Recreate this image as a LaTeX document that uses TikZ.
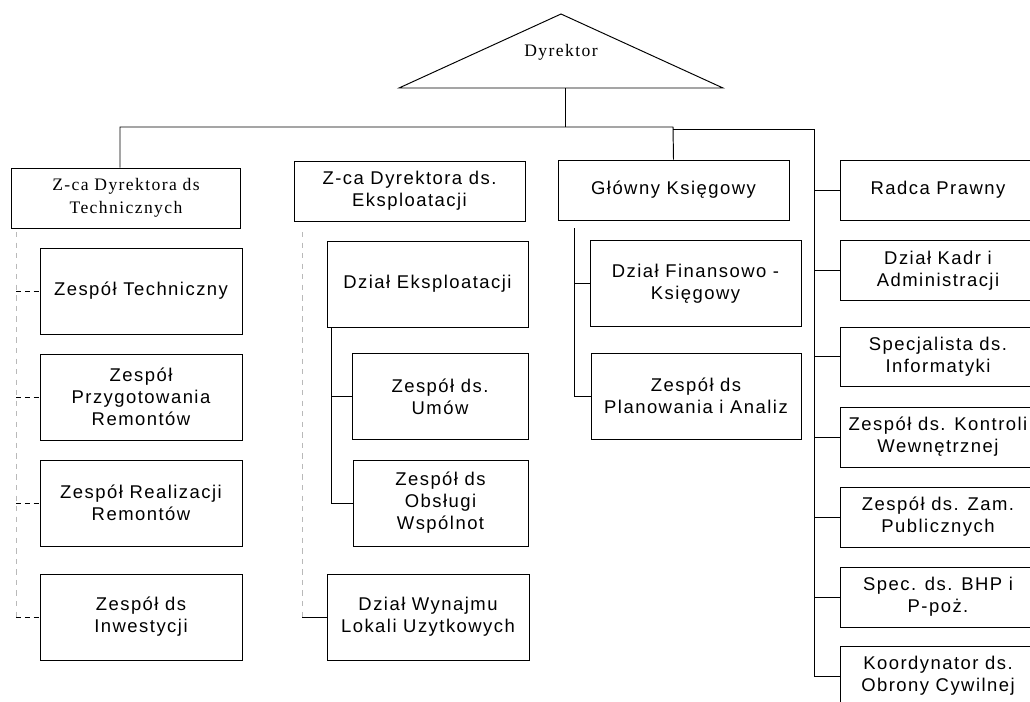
\documentclass[tikz,border=0pt]{standalone}
\usepackage{fontspec}
\setmainfont{Liberation Serif}[LetterSpace=8]
\setsansfont{Liberation Sans}[LetterSpace=8]
\usetikzlibrary{positioning}
\tikzset{
  box/.style={draw,line width=0.55pt,align=center,inner sep=2pt,
    font=\sffamily\fontsize{10.5}{12.5}\selectfont},
  sbox/.style={box,font=\rmfamily\fontsize{10}{13}\selectfont},
  lbox/.style={box,minimum width=4.04cm,minimum height=1.72cm},
  rbox/.style={box,minimum width=3.92cm,minimum height=1.2cm},
  conn/.style={line width=0.55pt},
  dconn/.style={line width=0.55pt,dash pattern=on 3pt off 2pt},
  faint/.style={line width=0.5pt,dashed,gray!55}
}

\begin{document}
\begin{tikzpicture}[x=0.02cm,y=-0.02cm]
\useasboundingbox (0,0) rectangle (1030,701);
\clip (0,0) rectangle (1030,701);
% director
\coordinate (dtop) at (561,14);
\coordinate (dleft) at (399,88);
\coordinate (dright) at (723,88);
\draw[conn] (dleft) -- (dtop) -- (dright) -- cycle;
\node[font=\rmfamily\fontsize{10}{12}\selectfont] (dyr) at (561,52) {Dyrektor};

% deputies
\node[sbox,minimum width=4.6cm,minimum height=1.2cm] (tech) at (126,198) {Z-ca Dyrektora ds\\Technicznych};
\node[box,minimum width=4.62cm,minimum height=1.2cm] (ekspl) at (409.5,191) {Z-ca Dyrektora ds.\\Eksploatacji};
\node[box,minimum width=4.62cm,minimum height=1.2cm] (glowny) at (673.5,190) {Główny Księgowy};

% technical units
\node[lbox] (ztech) at (141,291) {Zespół Techniczny};
\node[lbox] (zprzyg) at (141,397) {Zespół\\Przygotowania\\Remontów};
\node[lbox] (zreal) at (141,503) {Zespół Realizacji\\Remontów};
\node[lbox] (zinw) at (141,617) {Zespół ds\\Inwestycji};

% operations units
\node[lbox,minimum width=4.02cm] (dzeks) at (427.5,284) {Dział Eksploatacji};
\node[lbox,minimum width=3.52cm] (umow) at (440,396.5) {Zespół ds.\\Umów};
\node[lbox,minimum width=3.5cm] (obsl) at (440.5,503) {Zespół ds\\Obsługi\\Wspólnot};
\node[lbox] (wynaj) at (428,617) {Dział Wynajmu\\Lokali Uzytkowych};

% accounting units
\node[lbox,minimum width=4.22cm] (fin) at (695.5,283.5) {Dział Finansowo -\\Księgowy};
\node[lbox,minimum width=4.2cm] (plan) at (696,396) {Zespół ds\\Planowania i Analiz};

% staff posts
\node[rbox] (radca) at (938,190) {Radca Prawny};
\node[rbox] (kadr) at (938,270.5) {Dział Kadr i\\Administracji};
\node[rbox,minimum height=1.18cm] (spec) at (938,356.5) {Specjalista ds.\\Informatyki};
\node[rbox] (kontr) at (938,437) {Zespół ds. Kontroli\\Wewnętrznej};
\node[rbox] (zam) at (938,517) {Zespół ds. Zam.\\Publicznych};
\node[rbox] (bhp) at (938,597) {Spec. ds. BHP i\\P-poż.};
\node[rbox] (koord) at (938,676) {Koordynator ds.\\Obrony Cywilnej};

% main bus
\coordinate (dbase) at (565,88);
\coordinate (lbus) at (120,127);
\coordinate (mbus) at (673,127);
\coordinate (rbus) at (814,129);
\draw[conn] (dbase) -- (dbase |- lbus);
\draw[conn] (lbus |- tech.north) -- (lbus) -- (mbus) -- (glowny.north);
\draw[conn] (mbus |- rbus) -- (rbus) |- (koord.west);
\foreach \n in {radca,kadr,spec,kontr,zam,bhp}
  \draw[conn] (rbus |- \n.west) -- (\n.west);

% technical branch (faint)
\coordinate (tdash) at (16,232);
\draw[faint] (tdash) -- (tdash |- zinw.west);
\foreach \n in {ztech,zprzyg,zreal,zinw}
  \draw[dconn] (tdash |- \n.west) -- (\n.west);

% operations branch
\coordinate (edash) at (302,232);
\draw[faint] (edash) -- (edash |- wynaj.west);
\draw[conn] (edash |- wynaj.west) -- (wynaj.west);
\coordinate (ebus) at ([xshift=0.1cm]dzeks.south west);
\draw[conn] (ebus) |- (obsl.west);
\draw[conn] (ebus |- umow.west) -- (umow.west);

% accounting branch
\coordinate (gbus) at (574,228);
\draw[conn] (gbus) |- (plan.west);
\draw[conn] (gbus |- fin.west) -- (fin.west);
\end{tikzpicture}
\end{document}
